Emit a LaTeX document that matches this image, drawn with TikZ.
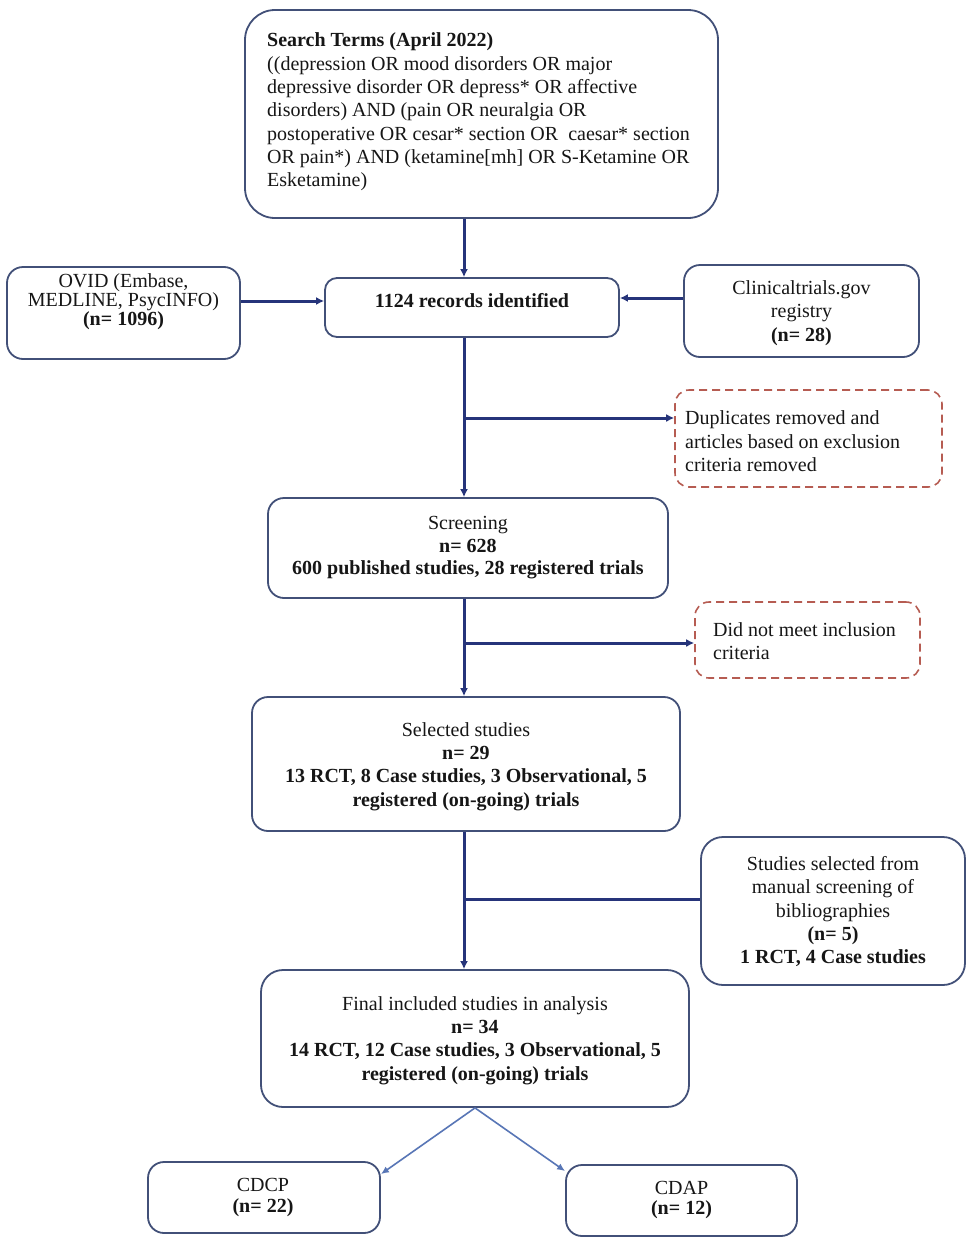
\documentclass[tikz,border=0pt]{standalone}
\usepackage{fontspec}
\setmainfont{Liberation Serif}
\usetikzlibrary{arrows.meta}
\definecolor{boxc}{RGB}{66,80,120}
\definecolor{linec}{RGB}{38,52,122}
\definecolor{thinc}{RGB}{88,118,182}
\definecolor{dashc}{RGB}{182,92,82}
\definecolor{txtc}{RGB}{22,22,22}
\begin{document}
\begin{tikzpicture}[x=1pt,y=-1pt,
  box/.style={draw=boxc, line width=1.8pt, rounded corners=16pt, inner sep=0pt},
  dbox/.style={draw=dashc, line width=1.6pt, dash pattern=on 8pt off 5pt, rounded corners=14pt, inner sep=0pt},
  txt/.style={inner sep=0pt, text=txtc, font=\fontsize{20}{#1}\selectfont},
  txt/.default=23.3,
  main/.style={draw=linec, line width=3pt},
  mainarr/.style={main, -{Latex[length=8pt,width=8pt]}},
  thinarr/.style={draw=thinc, line width=1.6pt, -{Latex[length=8pt,width=7pt]}}
]
\fill[white] (0,0) rectangle (972,1242);
\useasboundingbox (0,0) rectangle (972,1242);

% boxes
\node[box, rounded corners=30pt, minimum width=473pt, minimum height=208pt] (search) at (481.5,114) {};
\node[box, minimum width=233pt, minimum height=92pt] (ovid) at (123.5,313) {};
\node[box, rounded corners=12pt, minimum width=294pt, minimum height=59pt] (records) at (472,307.5) {};
\node[box, minimum width=235pt, minimum height=92pt] (ctg) at (801.5,311) {};
\node[dbox, minimum width=267pt, minimum height=97pt] (dup) at (808.5,438.5) {};
\node[box, minimum width=400pt, minimum height=100pt] (screen) at (468,548) {};
\node[dbox, minimum width=225pt, minimum height=76pt] (notmeet) at (807.5,640) {};
\node[box, minimum width=428pt, minimum height=134pt] (selected) at (466,764) {};
\node[box, rounded corners=22pt, minimum width=264pt, minimum height=148pt] (manual) at (833,911) {};
\node[box, rounded corners=22pt, minimum width=428pt, minimum height=137pt] (final) at (475,1038.5) {};
\node[box, minimum width=232pt, minimum height=71pt] (cdcp) at (264,1197.5) {};
\node[box, minimum width=231pt, minimum height=71pt] (cdap) at (681.5,1200.5) {};

% texts
\node[txt, anchor=west, align=left] (tsearch) at (267,112) {\textbf{Search Terms (April 2022)}\\
((depression OR mood disorders OR major\\
depressive disorder OR depress* OR affective\\
disorders) AND (pain OR neuralgia OR\\
postoperative OR cesar* section OR\ \ caesar* section\\
OR pain*) AND (ketamine[mh] OR S-Ketamine OR\\
Esketamine)};
\node[txt=18.7, align=center] (tovid) at (123.5,301.5) {OVID (Embase,\\ MEDLINE, PsycINFO)\\ \textbf{(n= 1096)}};
\node[txt, align=center] (trecords) at (472,301) {\textbf{1124 records identified}};
\node[txt=23.5, align=center] (tctg) at (801.5,313) {Clinicaltrials.gov\\ registry\\ \textbf{(n= 28)}};
\node[txt=23.5, anchor=west, align=left] (tdup) at (685,441.5) {Duplicates removed and\\ articles based on exclusion\\ criteria removed};
\node[txt=22.5, align=center] (tscreen) at (468,548) {Screening\\ \textbf{n= 628}\\ \textbf{600 published studies, 28 registered trials}};
\node[txt=23, anchor=west, align=left] (tnotmeet) at (713,641.5) {Did not meet inclusion\\ criteria};
\node[txt, align=center] (tselected) at (466,766.5) {Selected studies\\ \textbf{n= 29}\\ \textbf{13 RCT, 8 Case studies, 3 Observational, 5}\\ \textbf{registered (on-going) trials}};
\node[txt=23.4, align=center] (tmanual) at (833,911.5) {Studies selected from\\ manual screening of\\ bibliographies\\ \textbf{(n= 5)}\\ \textbf{1 RCT, 4 Case studies}};
\node[txt, align=center] (tfinal) at (475,1040.5) {Final included studies in analysis\\ \textbf{n= 34}\\ \textbf{14 RCT, 12 Case studies, 3 Observational, 5}\\ \textbf{registered (on-going) trials}};
\node[txt=21, align=center] (tcdcp) at (263,1197.5) {CDCP\\ \textbf{(n= 22)}};
\node[txt=20.5, align=center] (tcdap) at (681.5,1200) {CDAP\\ \textbf{(n= 12)}};

% connectors
\coordinate (sp) at (464,0);
\draw[mainarr] (sp |- search.south) -- (sp |- records.north);
\draw[mainarr] (sp |- records.south) -- (sp |- screen.north);
\draw[mainarr] (sp |- screen.south) -- (sp |- selected.north);
\draw[mainarr] (sp |- selected.south) -- (sp |- final.north);
\coordinate (b1) at (464,418);
\draw[mainarr] (b1) -- (b1 -| dup.west);
\coordinate (b2) at (464,643);
\draw[mainarr] (b2) -- (b2 -| notmeet.west);
\coordinate (b3) at (464,899);
\draw[main] (manual.west |- b3) -- (b3);
\coordinate (ya) at (0,301);
\draw[mainarr] (ovid.east |- ya) -- (records.west |- ya);
\coordinate (yb) at (0,298);
\draw[mainarr] (ctg.west |- yb) -- (records.east |- yb);
\draw[thinarr] (final.south) -- ([yshift=-13pt]cdcp.north east);
\draw[thinarr] (final.south) -- ([yshift=-7pt]cdap.north west);
\end{tikzpicture}
\end{document}
